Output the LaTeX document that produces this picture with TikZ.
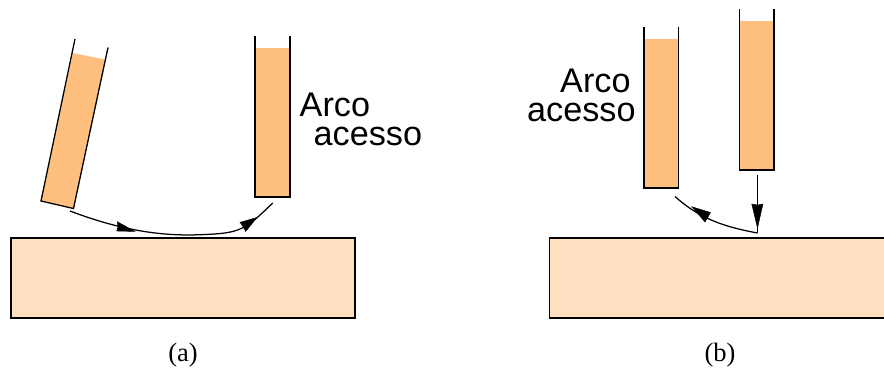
\documentclass[tikz,border=0pt]{standalone}
\usepackage{fontspec}
\setmainfont{Liberation Serif}
\newfontfamily\lblsans{Liberation Sans}
\definecolor{liquid}{HTML}{FFC07F}
\definecolor{plate}{HTML}{FFDFBF}
\tikzset{
  x=1pt,y=-1pt,
  ln/.style={line width=1.3pt,line cap=butt,line join=miter},
  plateS/.style={ln,draw=black,fill=plate},
  liquidS/.style={fill=liquid,draw=none},
  arcS/.style={font=\lblsans\fontsize{34.2}{34.2}\selectfont,inner sep=0pt,anchor=base west},
  capS/.style={font=\fontsize{26.5}{26.5}\selectfont,inner sep=0pt,anchor=base},
  conn/.style={line width=1.25pt},
  headS/.style={fill=black,draw=black,line width=0.4pt,line join=miter},
}
\begin{document}
\begin{tikzpicture}
\useasboundingbox (0,0) rectangle (884,367);
\begin{scope}
\clip (0,0) rectangle (884,367);
% (a) plate and tubes
\draw[plateS] (11,238) rectangle (355,318);
\fill[liquidS] (73,53) -- (105.5,59.5) -- (73.5,208.5) -- (41,201) -- cycle;
\draw[ln] (75,39) -- (41,201) -- (73.5,208.5) -- (108,47.5);
\fill[liquidS] (255,48) rectangle (290,197);
\draw[ln] (255,36) -- (255,197) -- (290,197) -- (290,36);
% (b) plate and tubes
\draw[plateS] (549.5,238) rectangle (900,318);
\fill[liquidS] (644,39) rectangle (678.5,188);
\draw[ln] (644,27) -- (644,188) -- (678.5,188) -- (678.5,27);
\fill[liquidS] (739.5,21) rectangle (774,170);
\draw[ln] (739.5,9) -- (739.5,170) -- (774,170) -- (774,9);
\end{scope}
% connectors
\coordinate (a1) at (70,211);
\coordinate (a2) at (272.7,203);
\coordinate (b0) at (757.5,175);
\coordinate (b1) at (757.5,233);
\coordinate (b2) at (675,196.5);
\draw[conn] (a1) .. controls (133,235) and (175,236) .. (205,234.5) .. controls (240,233) and (245,230) .. (a2);
\fill[headS] (135,231.5) -- (117.3,221.7) -- (118,226.5) -- (116.7,231) -- cycle;
\fill[headS] (257,217.5) -- (240,222.3) -- (243,226.5) -- (245.7,231.5) -- cycle;
\draw[conn] (b0) -- (b1);
\fill[headS] (757.5,228) -- (751.7,204) -- (757.5,205) -- (763,204) -- cycle;
\draw[conn] (b1) .. controls (725,227) and (700,219) .. (b2);
\fill[headS] (691.7,206.7) -- (710.5,212.5) -- (708,217) -- (705,222) -- cycle;
% labels
\node[arcS] (la1) at (299.5,116) {Arco};
\node[arcS] (la2) at (313.5,145) {acesso};
\node[arcS] (lb1) at (560,92) {Arco};
\node[arcS] (lb2) at (527,121) {acesso};
\node[capS] (ca) at (183,361) {(a)};
\node[capS] (cb) at (720,361) {(b)};
\end{tikzpicture}
\end{document}
